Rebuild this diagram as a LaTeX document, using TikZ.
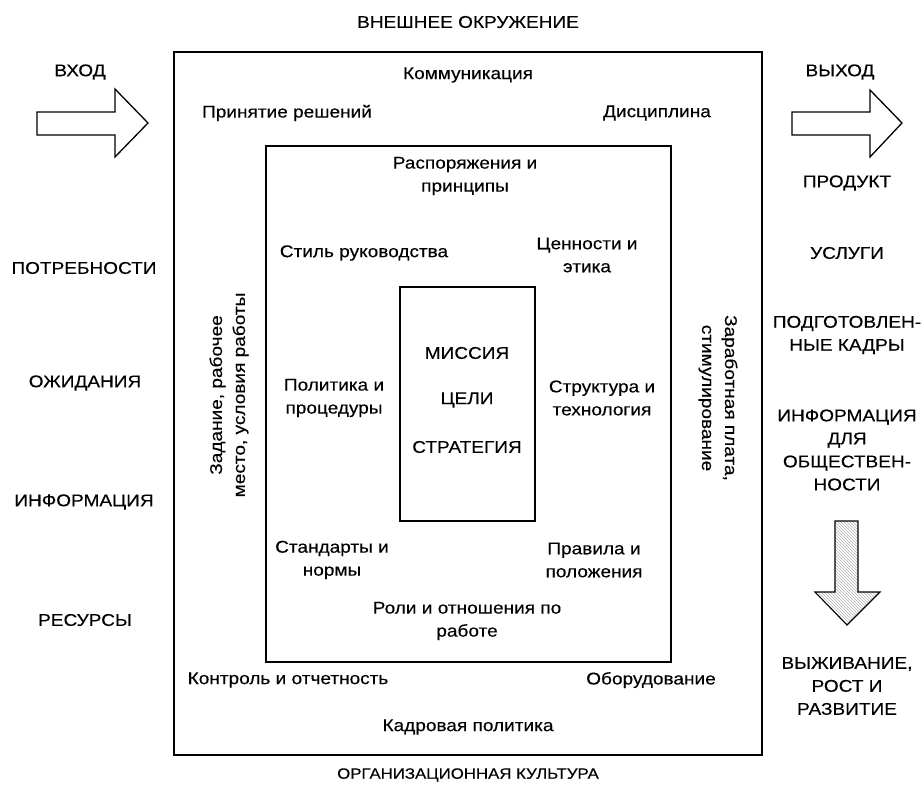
\documentclass[tikz,border=0pt]{standalone}
\usepackage{fontspec}
\setmainfont{Liberation Sans}[FakeStretch=1.12, FakeBold=0.3]
\usetikzlibrary{patterns}
\tikzset{
  lbl/.style={font=\fontsize{17}{23}\selectfont, align=center, inner sep=0pt},
  box/.style={draw, line width=1.6pt},
  bigarrow/.style={draw, line width=1.3pt, fill=white, line join=miter},
}
\begin{document}
\begin{tikzpicture}[x=1pt,y=-1pt]
\useasboundingbox (0,0) rectangle (924,791);

% nested frames
\draw[box] (174,52) rectangle (762,755);
\draw[box] (266,146) rectangle (671,662);
\draw[box] (400,287) rectangle (535,521);

% input / output arrows
\draw[bigarrow] (37,112) -- (115,112) -- (115,89) -- (148,123) -- (115,157) -- (115,135) -- (37,135) -- cycle;
\draw[bigarrow] (792,112) -- (870,112) -- (870,90) -- (902,123) -- (870,157) -- (870,135) -- (792,135) -- cycle;
% hatched downward arrow
\draw[bigarrow, line width=1.1pt, pattern=north west lines, pattern color=gray!60]
  (835,521) -- (858,521) -- (858,592) -- (880,592) -- (847,625) -- (815,592) -- (835,592) -- cycle;

% outer labels
\node[lbl] (env) at (468,22) {ВНЕШНЕЕ ОКРУЖЕНИЕ};
\node[lbl, font=\fontsize{15}{20}\selectfont] (cult) at (468,775) {ОРГАНИЗАЦИОННАЯ КУЛЬТУРА};
\node[lbl] (in) at (80,72) {ВХОД};
\node[lbl] (out) at (840,72) {ВЫХОД};

% inputs
\node[lbl] (needs) at (84,268) {ПОТРЕБНОСТИ};
\node[lbl] (expect) at (85,383) {ОЖИДАНИЯ};
\node[lbl] (info) at (84,502) {ИНФОРМАЦИЯ};
\node[lbl] (res) at (85,620) {РЕСУРСЫ};

% outputs
\node[lbl] (prod) at (847,183) {ПРОДУКТ};
\node[lbl] (serv) at (847,253) {УСЛУГИ};
\node[lbl] (staff) at (847,335) {ПОДГОТОВЛЕН-\\НЫЕ КАДРЫ};
\node[lbl] (pub) at (847,450) {ИНФОРМАЦИЯ\\ДЛЯ\\ОБЩЕСТВЕН-\\НОСТИ};
\node[lbl] (grow) at (847,686) {ВЫЖИВАНИЕ,\\РОСТ И\\РАЗВИТИЕ};

% outer ring
\node[lbl] (comm) at (468,75) {Коммуникация};
\node[lbl] (dec) at (287,113) {Принятие решений};
\node[lbl] (disc) at (657,113) {Дисциплина};
\node[lbl, rotate=90] (task) at (229,395) {Задание, рабочее\\место, условия работы};
\node[lbl, rotate=-90] (pay) at (718,398) {Заработная плата,\\стимулирование};
\node[lbl] (ctrl) at (288,680) {Контроль и отчетность};
\node[lbl] (equip) at (651,680) {Оборудование};
\node[lbl] (hr) at (468,727) {Кадровая политика};

% middle ring
\node[lbl] (orders) at (465,176) {Распоряжения и\\принципы};
\node[lbl] (style) at (364,253) {Стиль руководства};
\node[lbl] (values) at (587,255) {Ценности и\\этика};
\node[lbl] (policy) at (334,398) {Политика и\\процедуры};
\node[lbl] (struct) at (602,398) {Структура и\\технология};
\node[lbl] (stand) at (332,560) {Стандарты и\\нормы};
\node[lbl] (rules) at (594,560) {Правила и\\положения};
\node[lbl] (roles) at (467,621) {Роли и отношения по\\работе};

% core
\node[lbl] (mission) at (467,353) {МИССИЯ};
\node[lbl] (goals) at (467,400) {ЦЕЛИ};
\node[lbl] (strat) at (467,447) {СТРАТЕГИЯ};
\end{tikzpicture}
\end{document}
